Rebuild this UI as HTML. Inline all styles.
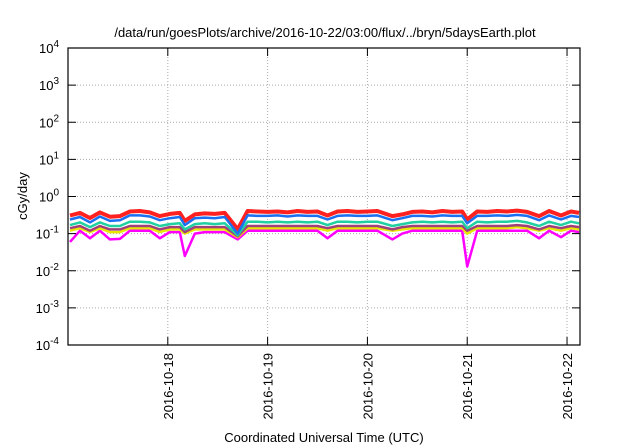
<!DOCTYPE html>
<html><head><meta charset="utf-8"><style>
body{margin:0;background:#fff}
svg{display:block;font-family:"Liberation Sans",sans-serif}
</style></head><body>
<svg id="chart" width="640" height="448" viewBox="0 0 640 448">
<text x="325" y="37" font-size="13" text-anchor="middle">/data/run/goesPlots/archive/2016-10-22/03:00/flux/../bryn/5daysEarth.plot</text>
<text transform="translate(27,196) rotate(-90)" font-size="13" text-anchor="middle">cGy/day</text>
<text x="324" y="442" font-size="13" text-anchor="middle">Coordinated Universal Time (UTC)</text>
<g id="grid"></g><g id="series"></g><g id="axes"></g>
</svg>
<script>
const times=[17.02,17.12,17.22,17.32,17.42,17.52,17.62,17.72,17.82,17.92,18.02,18.12,18.17,18.27,18.37,18.47,18.57,18.7,18.8,18.9,19.0,19.1,19.2,19.3,19.4,19.5,19.6,19.7,19.8,19.9,20.0,20.1,20.25,20.35,20.45,20.55,20.65,20.75,20.85,20.95,21.0,21.1,21.2,21.3,21.4,21.5,21.6,21.72,21.82,21.94,22.04,22.12];
const red=[0.28,0.33,0.24,0.34,0.26,0.27,0.36,0.37,0.34,0.27,0.31,0.33,0.2,0.3,0.32,0.31,0.33,0.12,0.37,0.36,0.35,0.36,0.34,0.37,0.35,0.36,0.28,0.36,0.37,0.35,0.36,0.37,0.27,0.3,0.35,0.36,0.34,0.37,0.35,0.36,0.22,0.36,0.35,0.37,0.36,0.38,0.35,0.27,0.37,0.28,0.36,0.33];
const blue=[0.24,0.28,0.2,0.29,0.22,0.23,0.31,0.31,0.29,0.23,0.26,0.28,0.17,0.26,0.27,0.26,0.28,0.1,0.31,0.3,0.3,0.31,0.29,0.31,0.3,0.3,0.24,0.3,0.31,0.3,0.3,0.31,0.23,0.26,0.3,0.3,0.29,0.31,0.3,0.3,0.19,0.3,0.3,0.31,0.3,0.32,0.3,0.23,0.31,0.24,0.3,0.28];
const teal=[0.17,0.2,0.15,0.2,0.16,0.16,0.21,0.21,0.2,0.16,0.18,0.19,0.13,0.18,0.19,0.18,0.19,0.09,0.21,0.21,0.2,0.21,0.2,0.21,0.2,0.21,0.17,0.21,0.21,0.2,0.21,0.21,0.16,0.18,0.2,0.21,0.2,0.21,0.2,0.21,0.14,0.21,0.2,0.21,0.21,0.22,0.2,0.16,0.21,0.17,0.21,0.19];
const purple=[0.14,0.16,0.12,0.16,0.13,0.13,0.16,0.16,0.16,0.13,0.15,0.15,0.11,0.15,0.15,0.15,0.15,0.085,0.16,0.16,0.16,0.16,0.16,0.16,0.16,0.16,0.14,0.16,0.16,0.16,0.16,0.16,0.13,0.15,0.16,0.16,0.16,0.16,0.16,0.16,0.12,0.16,0.16,0.16,0.16,0.17,0.16,0.13,0.16,0.14,0.16,0.15];
const yellow=[0.12,0.14,0.11,0.14,0.11,0.11,0.14,0.14,0.14,0.11,0.13,0.13,0.1,0.13,0.13,0.13,0.13,0.08,0.14,0.14,0.14,0.14,0.14,0.14,0.14,0.14,0.12,0.14,0.14,0.14,0.14,0.14,0.12,0.13,0.14,0.14,0.14,0.14,0.14,0.14,0.1,0.14,0.14,0.14,0.14,0.15,0.14,0.12,0.14,0.12,0.14,0.13];
const magenta=[0.06,0.12,0.075,0.12,0.07,0.072,0.12,0.12,0.12,0.075,0.11,0.11,0.025,0.1,0.11,0.11,0.11,0.07,0.12,0.12,0.12,0.12,0.12,0.12,0.12,0.12,0.075,0.12,0.12,0.12,0.12,0.12,0.07,0.1,0.12,0.12,0.12,0.12,0.12,0.12,0.013,0.12,0.12,0.12,0.12,0.12,0.12,0.075,0.12,0.08,0.12,0.11];
const yTickExp=[-4,-3,-2,-1,0,1,2,3,4];
const xTickDays=[18,19,20,21,22];
const xTickLabels=["2016-10-18","2016-10-19","2016-10-20","2016-10-21","2016-10-22"];

const L=68,R=580,T=48,B=345,ns="http://www.w3.org/2000/svg";
const xMin=17.0,xMax=22.13;
const X=d=>L+(d-xMin)/(xMax-xMin)*(R-L);
const Y=v=>B-(Math.log10(v)+4)/8*(B-T);
function mk(tag,attrs,parent){const e=document.createElementNS(ns,tag);for(const k in attrs)e.setAttribute(k,attrs[k]);parent.appendChild(e);return e;}
const grid=document.getElementById('grid'),axes=document.getElementById('axes'),ser=document.getElementById('series');
yTickExp.forEach(e=>{
  const y=Y(Math.pow(10,e));
  if(e>-4&&e<4){const g=mk('line',{x1:L,x2:R,y1:y,y2:y,stroke:'#aaa','stroke-dasharray':'1,2','stroke-width':1},grid);
  
  }
  const t1=mk('line',{x1:L,x2:L+8,y1:y,y2:y,stroke:'#000'},axes);
  
  
  const t2=mk('line',{x1:R-8,x2:R,y1:y,y2:y,stroke:'#000'},axes);
  
  
  const tx=mk('text',{x:L-9,y:y+5,'font-size':13,'text-anchor':'end'},axes);
  
  
  tx.innerHTML='10<tspan dy="-6" font-size="10">'+e+'</tspan>';
});
xTickDays.forEach((d,i)=>{
  const x=X(d);
  const g=mk('line',{x1:x,x2:x,y1:T,y2:B,stroke:'#aaa','stroke-dasharray':'1,2'},grid);
  
  
  const t=mk('line',{x1:x,x2:x,y1:B-8,y2:B,stroke:'#000'},axes);
  
  
  const t2=mk('line',{x1:x,x2:x,y1:T,y2:T+8,stroke:'#000'},axes);
  
  
  const tx=mk('text',{transform:`translate(${x+5},353) rotate(-90)`,'font-size':13,'text-anchor':'end'},axes);
  
  
  tx.textContent=xTickLabels[i];
});
const fr=mk('rect',{x:L,y:T,width:R-L,height:B-T,fill:'none',stroke:'#000','stroke-width':1.2},axes);


const list=[[magenta,'#ff00ff','magenta'],[yellow,'#e8e800','yellow'],[purple,'#a0407a','purple'],[teal,'#20d0a0','teal'],[red,'#ff2020','red'],[blue,'#1a70f0','blue']];
list.forEach(([vals,col,nm])=>{
  const d=vals.map((v,i)=>(i?'L':'M')+X(times[i]).toFixed(1)+','+Y(v).toFixed(1)).join(' ');
  const p=mk('path',{d:d,fill:'none',stroke:col,'stroke-width':nm==='red'?4:(nm==='blue'?2.5:2.5),'stroke-linejoin':'round',transform:nm==='red'?'translate(0,-1.5)':''},ser);
  
  
});
</script>
</body></html>
